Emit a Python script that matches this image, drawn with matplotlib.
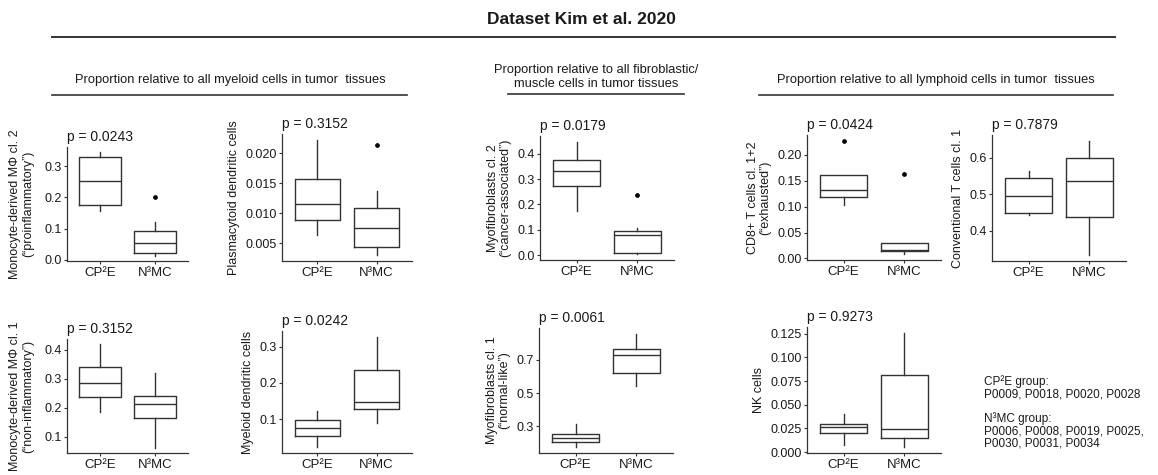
import matplotlib
matplotlib.use("Agg")
import matplotlib.pyplot as plt
from matplotlib.lines import Line2D
from matplotlib.ticker import FormatStrFormatter

plt.rcParams["font.family"] = ["Liberation Sans", "DejaVu Sans"]

W, H = 1158, 475          # canvas size in pixels
INK = "#333333"
TXT = "#1a1a1a"

groups = ["CP²E", "N³MC"]

ylabels = [
    "Monocyte-derived MΦ cl. 2\n(“proinflammatory”)",
    "Plasmacytoid dendritic cells",
    "Myofibroblasts cl. 2\n(“cancer-associated”)",
    "CD8+ T cells cl. 1+2\n(“exhausted”)",
    "Conventional T cells cl. 1",
    "Monocyte-derived MΦ cl. 1\n(“non-inflammatory”)",
    "Myeloid dendritic cells",
    "Myofibroblasts cl. 1\n(“normal-like”)",
    "NK cells",
]
pvalues = ["0.0243", "0.3152", "0.0179", "0.0424", "0.7879",
           "0.3152", "0.0242", "0.0061", "0.9273"]

# (lower whisker, Q1, median, Q3, upper whisker) per panel
cp2e_stats = [
    (0.156, 0.175, 0.254, 0.330, 0.346),
    (0.0064, 0.0089, 0.0115, 0.0156, 0.0222),
    (0.175, 0.273, 0.331, 0.374, 0.448),
    (0.104, 0.118, 0.131, 0.160, 0.160),
    (0.442, 0.448, 0.494, 0.544, 0.564),
    (0.187, 0.239, 0.285, 0.341, 0.420),
    (0.022, 0.054, 0.076, 0.097, 0.123),
    (0.175, 0.206, 0.230, 0.256, 0.314),
    (0.007, 0.020, 0.026, 0.030, 0.040),
]
n3mc_stats = [
    (0.012, 0.021, 0.052, 0.092, 0.120),
    (0.0030, 0.0044, 0.0076, 0.0108, 0.0137),
    (0.003, 0.010, 0.078, 0.095, 0.106),
    (0.008, 0.015, 0.017, 0.029, 0.029),
    (0.332, 0.436, 0.537, 0.599, 0.647),
    (0.062, 0.164, 0.214, 0.241, 0.320),
    (0.090, 0.128, 0.147, 0.235, 0.328),
    (0.541, 0.620, 0.728, 0.764, 0.855),
    (0.005, 0.015, 0.024, 0.081, 0.126),
]
cp2e_outliers = [[], [], [], [0.227], [], [], [], [], []]
n3mc_outliers = [[0.203], [0.0214], [0.238], [0.163], [], [], [], [], []]

yticks = [
    [0.0, 0.1, 0.2, 0.3],
    [0.005, 0.010, 0.015, 0.020],
    [0.0, 0.1, 0.2, 0.3, 0.4],
    [0.00, 0.05, 0.10, 0.15, 0.20],
    [0.4, 0.5, 0.6],
    [0.1, 0.2, 0.3, 0.4],
    [0.1, 0.2, 0.3],
    [0.3, 0.5, 0.7],
    [0.000, 0.025, 0.050, 0.075, 0.100, 0.125],
]
tick_fmt = ["%.1f", "%.3f", "%.1f", "%.2f", "%.1f", "%.1f", "%.1f", "%.1f", "%.3f"]

# panel frames in pixels: left, top, width, bottom
frames = [
    (67, 147, 121, 261), (282, 134, 130, 261), (540, 136, 134, 260),
    (807, 135, 134, 260), (992, 135, 134, 261),
    (67, 339, 121, 453), (282, 331, 130, 453), (539, 328, 134, 453),
    (807, 327, 134, 453),
]
label_pads = [7, 4, 4, 4, 4, 7, 4, 4, 4]


def px_axes(fig, left, top, width, bottom):
    return fig.add_axes([left / W, 1 - bottom / H, width / W, (bottom - top) / H])


def hline(fig, x0, x1, y, lw):
    fig.add_artist(Line2D([x0 / W, x1 / W], [1 - y / H, 1 - y / H],
                          color=INK, lw=lw, transform=fig.transFigure))


def draw_panel(ax, i):
    stats = []
    for s, out in ((cp2e_stats[i], cp2e_outliers[i]), (n3mc_stats[i], n3mc_outliers[i])):
        lo, q1, med, q3, hi = s
        stats.append(dict(whislo=lo, q1=q1, med=med, q3=q3, whishi=hi, fliers=out))

    line = dict(color=INK, linewidth=1.0)
    ax.bxp(stats, positions=[1, 2], widths=0.76, showcaps=False,
           boxprops=line, whiskerprops=line, medianprops=line,
           flierprops=dict(marker="o", markersize=2.4, markerfacecolor="black",
                           markeredgecolor="black", linestyle="none"))

    # ggplot-style 5% padding around the data range
    vals = [v for s in (cp2e_stats[i], n3mc_stats[i]) for v in s]
    vals += cp2e_outliers[i] + n3mc_outliers[i]
    lo, hi = min(vals), max(vals)
    pad = 0.05 * (hi - lo)
    ax.set_ylim(lo - pad, hi + pad)
    ax.set_xlim(0.4, 2.6)

    ax.set_yticks(yticks[i])
    ax.yaxis.set_major_formatter(FormatStrFormatter(tick_fmt[i]))
    ax.set_xticks([1, 2])
    ax.set_xticklabels(groups, fontsize=9.5)

    for side in ("top", "right"):
        ax.spines[side].set_visible(False)
    for side in ("left", "bottom"):
        ax.spines[side].set_color(INK)
        ax.spines[side].set_linewidth(0.9)
    ax.tick_params(axis="both", direction="out", length=2.5, width=0.8,
                   color=INK, labelcolor=TXT, pad=1.5)
    ax.tick_params(axis="y", labelsize=9)

    ax.set_ylabel(ylabels[i], fontsize=9, color=TXT, labelpad=label_pads[i],
                  linespacing=1.1)
    ax.set_title(f"p = {pvalues[i]}", loc="left", fontsize=10, pad=4, color=TXT)


fig = plt.figure(figsize=(W / 100, H / 100), dpi=100)

fig.text(581 / W, 1 - 19 / H, "Dataset Kim et al. 2020", ha="center", va="center",
         fontsize=12.5, fontweight="bold", color=TXT)
hline(fig, 52, 1115, 37, 1.4)

fig.text(230 / W, 1 - 80 / H, "Proportion relative to all myeloid cells in tumor  tissues",
         ha="center", va="center", fontsize=9.3, color=TXT)
hline(fig, 52, 407, 95, 1.2)
fig.text(596 / W, 1 - 77 / H, "Proportion relative to all fibroblastic/\nmuscle cells in tumor tissues",
         ha="center", va="center", fontsize=9.3, color=TXT, linespacing=1.15)
hline(fig, 508, 684, 94, 1.2)
fig.text(936 / W, 1 - 80 / H, "Proportion relative to all lymphoid cells in tumor  tissues",
         ha="center", va="center", fontsize=9.3, color=TXT)
hline(fig, 759, 1113, 95, 1.2)

for i, fr in enumerate(frames):
    draw_panel(px_axes(fig, *fr), i)

fig.text(984 / W, 1 - 388 / H, "CP²E group:\nP0009, P0018, P0020, P0028",
         ha="left", va="center", fontsize=8.5, color=TXT, linespacing=1.05)
fig.text(984 / W, 1 - 431 / H, "N³MC group:\nP0006, P0008, P0019, P0025,\nP0030, P0031, P0034",
         ha="left", va="center", fontsize=8.5, color=TXT, linespacing=1.0)

fig.savefig("out.png", dpi=100)
